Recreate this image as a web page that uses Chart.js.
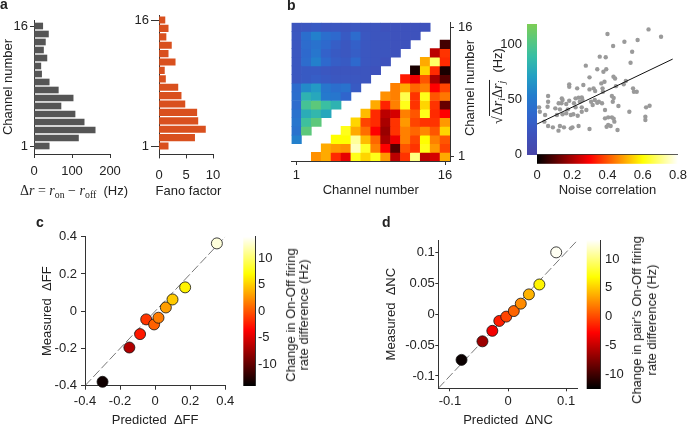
<!DOCTYPE html>
<html lang="en">
<head>
<meta charset="UTF-8">
<title>Rate differences, noise correlations and their changes</title>
<script src="https://cdn.jsdelivr.net/npm/chart.js"></script>
<style>
  body { margin: 0; background: #fff; }
  #fig { position: relative; width: 700px; height: 426px; overflow: hidden; background: #fff;
         font-family: 'Liberation Sans', Arial, sans-serif; color: #222; }
  #fig canvas { position: absolute; left: 0; top: 0; }
  .tag { position: absolute; font-weight: bold; font-size: 14px; line-height: 14px; }
  .lbl { position: absolute; white-space: nowrap; font-size: 13px; line-height: 14px; text-align: center; }
  .ctr { transform: translate(-50%, -50%); }
  .rot { transform: translate(-50%, -50%) rotate(-90deg); }
  .m { font-family: 'Liberation Serif', 'DejaVu Serif', serif; font-size: 14px; }
  sub { font-size: 70%; vertical-align: -0.3em; line-height: 0; }
</style>
</head>
<body>
<div id="fig">
  <canvas id="rateBars" width="700" height="426"></canvas>
  <canvas id="fanoBars" width="700" height="426"></canvas>
  <canvas id="pairMap" width="700" height="426"></canvas>
  <canvas id="pairScatter" width="700" height="426"></canvas>
  <canvas id="ffScatter" width="700" height="426"></canvas>
  <canvas id="ffBar" width="700" height="426"></canvas>
  <canvas id="ncScatter" width="700" height="426"></canvas>
  <canvas id="ncBar" width="700" height="426"></canvas>

  <div class="tag" style="left:0px;top:-3px">a</div>
  <div class="tag" style="left:287px;top:-2px">b</div>
  <div class="tag" style="left:36px;top:215px">c</div>
  <div class="tag" style="left:382px;top:215px">d</div>

  <div class="lbl ctr" style="left:74px;top:191px"><span class="m">Δ<i>r</i> = <i>r</i><sub>on</sub> − <i>r</i><sub>off</sub></span>&nbsp; (Hz)</div>
  <div class="lbl ctr" style="left:188.5px;top:191px">Fano factor</div>
  <div class="lbl rot" style="left:470px;top:88px">Channel number</div>
  <div class="lbl rot" style="left:498px;top:86px"><span class="m">√<span style="border-top:1px solid #222;padding:0 1px">Δ<i>r</i><sub><i>i</i></sub>Δ<i>r</i><sub><i>j</i></sub></span></span>&nbsp;&nbsp;(Hz)</div>
  <div class="lbl rot" style="left:296.5px;top:315px;line-height:13px">Change in On-Off firing<br>rate difference (Hz)</div>
  <div class="lbl rot" style="left:644px;top:320px;line-height:15px">Change in pair's On-Off firing<br>rate difference (Hz)</div>
</div>

<script>
    // panel a: per channel values (channel 1 .. 16)
    const channels = [1, 2, 3, 4, 5, 6, 7, 8, 9, 10, 11, 12, 13, 14, 15, 16];
    const rateDiff = [40, 117, 161, 132, 108, 71, 103, 64, 40, 20, 18, 34, 25, 30, 38, 23];
    const fano = [1.7, 6.6, 8.6, 7.2, 7.0, 4.8, 4.1, 3.5, 1.2, 1.0, 3.0, 1.7, 2.3, 1.3, 1.7, 1.1];
    const rateTicks = [0, 100, 200];
    const fanoTicks = [0, 5, 10];
    const channelTicks = [1, 16];

    // panel b: upper-left triangle, sqrt(dri*drj) in Hz, rows 3..16 (cols 1..row-2)
    const rateRows = [
        [55],
        [45, 105],
        [48, 92, 105],
        [45, 78, 85, 75],
        [40, 95, 105, 90, 82],
        [42, 82, 75, 50, 48, 35],
        [40, 60, 68, 48, 42, 45, 25],
        [22, 25, 28, 25, 22, 22, 22, 20],
        [22, 25, 25, 22, 20, 20, 20, 20, 18],
        [22, 40, 55, 38, 28, 25, 38, 22, 20, 18],
        [22, 38, 48, 32, 25, 22, 28, 22, 20, 20, 18],
        [22, 40, 45, 38, 28, 22, 30, 22, 20, 20, 18, 18],
        [22, 42, 55, 42, 38, 25, 40, 22, 20, 20, 18, 18, 18],
        [20, 22, 25, 22, 22, 20, 22, 20, 20, 18, 18, 18, 18, 18]
    ];
    // lower-right triangle, noise correlation, rows 1..14 (cols row+2..16)
    const ncRows = [
        [0.47, 0.50, 0.35, 0.27, 0.62, 0.55, 0.62, 0.48, 0.22, 0.36, 0.70, 0.22, 0.25, 0.50],
        [0.50, 0.48, 0.47, 0.75, 0.63, 0.45, 0.30, 0.10, 0.40, 0.36, 0.62, 0.48, 0.38],
        [0.60, 0.60, 0.72, 0.52, 0.42, 0.20, 0.28, 0.45, 0.38, 0.60, 0.45, 0.40],
        [0.62, 0.50, 0.43, 0.30, 0.18, 0.36, 0.45, 0.42, 0.46, 0.40, 0.55],
        [0.55, 0.38, 0.35, 0.20, 0.36, 0.48, 0.38, 0.36, 0.36, 0.48],
        [0.52, 0.35, 0.22, 0.25, 0.45, 0.40, 0.62, 0.35, 0.30],
        [0.50, 0.34, 0.45, 0.62, 0.36, 0.55, 0.36, 0.12],
        [0.47, 0.45, 0.66, 0.36, 0.62, 0.40, 0.44],
        [0.45, 0.50, 0.42, 0.45, 0.30, 0.38],
        [0.33, 0.28, 0.40, 0.20, 0.10],
        [0.03, 0.55, 0.35, 0.03],
        [0.50, 0.68, 0.35],
        [0.22, 0.36],
        [0.08]
    ];
    const rateMax = 118.5;
    const ncMax = 0.8;
    const rateAxisTicks = [0, 50, 100];
    const ncTicks = [0, 0.2, 0.4, 0.6, 0.8];

    // panel b scatter: noise correlation vs sqrt(dri*drj)
    const pairNC = [0.633, 0.704, 0.40, 0.571, 0.496, 0.432, 0.54, 0.356, 0.39, 0.531, 0.277, 0.342, 0.377, 0.393,
        0.298, 0.434, 0.443, 0.504, 0.365, 0.383, 0.183, 0.183, 0.228, 0.263, 0.298, 0.321, 0.372, 0.33, 0.492,
        0.448, 0.374, 0.545, 0.55, 0.566, 0.425, 0.435, 0.141, 0.145, 0.183, 0.219, 0.236, 0.254, 0.258, 0.243,
        0.328, 0.063, 0.063, 0.123, 0.139, 0.166, 0.21, 0.307, 0.342, 0.351, 0.369, 0.43, 0.012, 0.06, 0.104,
        0.13, 0.175, 0.219, 0.254, 0.28, 0.316, 0.386, 0.462, 0.619, 0.639, 0.016, 0.046, 0.113, 0.145, 0.166,
        0.192, 0.206, 0.231, 0.254, 0.386, 0.404, 0.425, 0.435, 0.439, 0.524, 0.615, 0.615, 0.042, 0.063, 0.09,
        0.13, 0.153, 0.192, 0.201, 0.236, 0.298, 0.395, 0.404, 0.418, 0.457, 0.122];
    const pairRate = [113.6, 106.9, 109.4, 103.9, 102.4, 98.5, 93.3, 88.8, 88.2, 83.3, 80.6, 77.3, 75.1, 77.3,
        70, 70.6, 69, 66.6, 64.5, 66, 63.6, 61.5, 60, 63, 59, 60, 60, 57.5, 63.6,
        62, 56.9, 60, 56.9, 56.9, 53, 51.2, 50.9, 49.4, 48.7, 50.9, 51.5, 51.8, 49.4, 47.8,
        49.4, 53, 47.8, 46.4, 46.4, 45.7, 46.4, 47.8, 46.9, 47.8, 46.4, 47.8, 42.7, 43.3, 41.8,
        40.9, 40.9, 42.7, 42.7, 40.3, 44.8, 40.3, 43.9, 42.7, 44.2, 38.7, 35.7, 35.7, 36.4, 37.3,
        35.7, 36.4, 35.1, 38.7, 32.7, 33.6, 33.6, 32.4, 29.7, 38.7, 34.2, 31.2, 29.7, 25.7, 24.5,
        25.7, 24.5, 23.6, 24.5, 25.7, 23, 25.1, 26.6, 25.7, 22.1, 21.5];
    const fitNC = [0, 0.77];
    const fitRate = [27.5, 86.6];

    // panel c
    const predFF = [-0.30, -0.147, -0.086, -0.051, -0.006, 0.019, 0.061, 0.099, 0.171, 0.352];
    const measFF = [-0.379, -0.195, -0.123, -0.044, -0.071, -0.035, 0.02, 0.063, 0.128, 0.364];
    const rateChangeFF = [-13.4, -6.7, -2.5, -1.3, 0.5, 1.6, 3, 4.8, 6.5, 13];
    const ffTicks = [-0.4, -0.2, 0, 0.2, 0.4];
    const ffRange = [-0.4, 0.4];
    const ffColor = [-14, 14];

    // panel d
    const predNC = [-0.08, -0.044, -0.027, -0.015, -0.003, 0.01, 0.022, 0.036, 0.054, 0.083];
    const measNC = [-0.074, -0.044, -0.027, -0.011, -0.004, 0.005, 0.017, 0.032, 0.048, 0.1];
    const rateChangeNC = [-12, -6.5, -3.2, -1.7, -0.2, 1, 2.5, 4, 6.5, 13];
    const dncTicks = [-0.1, 0, 0.1];
    const dncYTicks = [-0.1, -0.05, 0, 0.05, 0.1];
    const dncRange = [-0.12, 0.12];
    const ncColor = [-12.4, 13.3];
    const colorTicks = [-10, -5, 0, 5, 10];

    Chart.defaults.font.family = "'Liberation Sans', Arial, sans-serif";
    Chart.defaults.font.size = 13;
    Chart.defaults.color = '#222';

    const clamp = v => Math.max(0, Math.min(1, v));

    function hot(f) {
        f = clamp(f);
        const r = clamp(f / 0.375), g = clamp((f - 0.375) / 0.375), b = clamp((f - 0.75) / 0.25);
        return `rgb(${Math.round(255 * r)},${Math.round(255 * g)},${Math.round(255 * b)})`;
    }

    const blueStops = [
        [0, [72, 70, 168]], [0.15, [62, 82, 188]], [0.3, [48, 102, 205]], [0.45, [35, 125, 205]],
        [0.6, [35, 160, 195]], [0.75, [55, 190, 165]], [0.88, [90, 200, 125]], [1, [125, 205, 85]]
    ];
    function parula(f) {
        f = clamp(f);
        for (let i = 1; i < blueStops.length; i++) {
            const [f1, c1] = blueStops[i];
            const [f0, c0] = blueStops[i - 1];
            if (f <= f1) {
                const t = (f - f0) / (f1 - f0);
                const c = c0.map((v, k) => Math.round(v + t * (c1[k] - v)));
                return `rgb(${c[0]},${c[1]},${c[2]})`;
            }
        }
        return 'rgb(125,205,85)';
    }

    // chart area in page pixels -> layout padding (axis boxes get fixed sizes)
    function pad(l, t, r, b, yw, xh, yRight) {
        return yRight
            ? { left: l, top: t, right: 700 - r - yw, bottom: 426 - b - xh }
            : { left: l - yw, top: t, right: 700 - r, bottom: 426 - b - xh };
    }

    function axis({ min, max, ticks, tl = 4, gap = 3, size, title, border = true, position }) {
        const o = {
            type: 'linear', min, max, offset: false,
            afterBuildTicks: s => { s.ticks = ticks.map(v => ({ value: v })); },
            ticks: { padding: gap, autoSkip: false, maxRotation: 0, color: '#222', callback: v => String(v) },
            grid: { drawOnChartArea: false, drawTicks: tl > 0, tickLength: tl, color: '#333', offset: false },
            border: { display: border, color: '#333' },
            title: { display: !!title, text: title || '', padding: 0, color: '#222' },
            afterFit: s => { if (s.isHorizontal()) s.height = size; else s.width = size; }
        };
        if (position) o.position = position;
        return o;
    }

    function base(o) {
        return Object.assign({
            responsive: false,
            animation: false,
            events: [],
            plugins: { legend: { display: false }, tooltip: { enabled: false } }
        }, o);
    }

    // a: rate difference bars
    new Chart('rateBars', {
        type: 'bar',
        data: { datasets: [{ data: channels.map((c, i) => ({ x: rateDiff[i], y: c })), backgroundColor: '#555', barThickness: 6 }] },
        options: base({
            indexAxis: 'y',
            layout: { padding: pad(34, 20, 110, 154, 33.3, 40) },
            scales: {
                x: axis({ min: 0, max: 200, ticks: rateTicks, tl: 4, gap: 6, size: 40 }),
                y: axis({ min: 0, max: 16.75, ticks: channelTicks, tl: 4, gap: 2, size: 33.3, title: 'Channel number' })
            }
        })
    });

    // a: Fano factor bars
    new Chart('fanoBars', {
        type: 'bar',
        data: { datasets: [{ data: channels.map((c, i) => ({ x: fano[i], y: c })), backgroundColor: '#d9501e', barThickness: 6.5 }] },
        options: base({
            indexAxis: 'y',
            layout: { padding: pad(159, 15, 213, 154.4, 30, 44.4) },
            scales: {
                x: axis({ min: 0, max: 10, ticks: fanoTicks, tl: 4, gap: 9, size: 44.4 }),
                y: axis({ min: 0, max: 16.6, ticks: channelTicks, tl: 8, gap: 2, size: 30 })
            }
        })
    });

    // b: pair matrix
    const rateCells = [], ncCells = [];
    rateRows.forEach((vals, k) => {
        const row = k + 3;
        vals.forEach((v, c) => rateCells.push({ x: c + 1, y: [row - 0.5, row + 0.5], v }));
    });
    ncRows.forEach((vals, k) => {
        const row = k + 1;
        vals.forEach((v, c) => ncCells.push({ x: row + 2 + c, y: [row - 0.5, row + 0.5], v }));
    });
    const cellStyle = { grouped: false, categoryPercentage: 1, barPercentage: 1, borderWidth: 0 };
    new Chart('pairMap', {
        type: 'bar',
        data: {
            datasets: [
                Object.assign({ data: rateCells, backgroundColor: c => c.raw ? parula(c.raw.v / rateMax) : 'transparent' }, cellStyle),
                Object.assign({ data: ncCells, backgroundColor: c => c.raw ? hot(c.raw.v / ncMax) : 'transparent' }, cellStyle)
            ]
        },
        options: base({
            layout: { padding: pad(291.5, 22.7, 450, 161, 25, 37.5, true) },
            scales: {
                x: axis({ min: 0.5, max: 16.5, ticks: channelTicks, tl: 4, gap: 3, size: 37.5, title: 'Channel number' }),
                y: axis({ min: 0.5, max: 16.5, ticks: channelTicks, tl: 4, gap: 4, size: 25, position: 'right' })
            }
        })
    });

    // b: scatter with the two colour bars along its axes
    const pairBars = {
        id: 'pairBars',
        afterDraw(chart) {
            const { ctx, chartArea: a, scales: { x, y } } = chart;
            const top = y.getPixelForValue(rateMax);
            for (let p = Math.floor(top); p < a.bottom; p++) {
                ctx.fillStyle = parula(y.getValueForPixel(p + 0.5) / rateMax);
                ctx.fillRect(a.left - 10, p, 10, 1);
            }
            for (let p = Math.floor(a.left); p < a.right; p++) {
                ctx.fillStyle = hot(x.getValueForPixel(p + 0.5) / ncMax);
                ctx.fillRect(p, a.bottom + 0.5, 1, 9);
            }
        }
    };
    new Chart('pairScatter', {
        type: 'scatter',
        data: {
            datasets: [
                { data: fitNC.map((v, i) => ({ x: v, y: fitRate[i] })), showLine: true, borderColor: '#111', borderWidth: 1, pointRadius: 0 },
                { data: pairNC.map((v, i) => ({ x: v, y: pairRate[i] })), backgroundColor: '#9a9a9a', borderWidth: 0, pointRadius: 2.2 }
            ]
        },
        options: base({
            layout: { padding: pad(537, 24, 688, 154.3, 40, 44.2) },
            scales: {
                x: axis({ min: 0, max: ncMax, ticks: ncTicks, tl: 0, gap: 13, size: 44.2, title: 'Noise correlation' }),
                y: axis({ min: 0, max: rateMax, ticks: rateAxisTicks, tl: 0, gap: 15, size: 40, border: false })
            }
        }),
        plugins: [pairBars]
    });

    // colour bar drawn through the bar chart's own y scale
    const hotStrip = {
        id: 'hotStrip',
        beforeDraw(chart) {
            const { ctx, chartArea: a, scales: { y } } = chart;
            for (let p = Math.floor(a.top); p < a.bottom; p++) {
                ctx.fillStyle = hot((y.getValueForPixel(p + 0.5) - y.min) / (y.max - y.min));
                ctx.fillRect(a.left, p, a.right - a.left, 1);
            }
        }
    };

    function changeScatter(id, xs, ys, vals, crange, range, area, xTicks, yTicks, opt) {
        new Chart(id, {
            type: 'scatter',
            data: {
                datasets: [
                    {
                        data: xs.map((v, i) => ({ x: v, y: ys[i], v: vals[i] })),
                        backgroundColor: c => c.raw ? hot((c.raw.v - crange[0]) / (crange[1] - crange[0])) : '#fff',
                        borderColor: '#111', borderWidth: 0.8, pointRadius: 5.5, clip: false
                    },
                    {
                        data: range.map(v => ({ x: v, y: v })), showLine: true, borderColor: '#555',
                        borderWidth: 0.8, borderDash: [9, 3], pointRadius: 0
                    }
                ]
            },
            options: base({
                layout: { padding: pad(area[0], area[1], area[2], area[3], opt.yw, opt.xh) },
                scales: {
                    x: axis({ min: range[0], max: range[1], ticks: xTicks, tl: opt.tl, gap: opt.xgap, size: opt.xh, title: opt.xTitle }),
                    y: axis({ min: range[0], max: range[1], ticks: yTicks, tl: opt.tl, gap: opt.ygap, size: opt.yw, title: opt.yTitle })
                }
            })
        });
    }

    function colourBar(id, crange, area, gap) {
        new Chart(id, {
            type: 'scatter',
            data: { datasets: [] },
            options: base({
                layout: { padding: pad(area[0], area[1], area[2], area[3], 25, 0, true) },
                scales: {
                    x: { display: false, min: 0, max: 1 },
                    y: axis({ min: crange[0], max: crange[1], ticks: colorTicks, tl: 0, gap, size: 25, position: 'right' })
                }
            }),
            plugins: [hotStrip]
        });
    }

    // c
    changeScatter('ffScatter', predFF, measFF, rateChangeFF, ffColor, ffRange, [85, 236.7, 225.3, 385.7], ffTicks, ffTicks,
        { yw: 45.8, xh: 42.1, tl: 4, xgap: 4.2, ygap: 4, xTitle: 'Predicted  ΔFF', yTitle: 'Measured  ΔFF' });
    colourBar('ffBar', ffColor, [243.3, 236.7, 255, 385.7], 3);

    // d
    changeScatter('ncScatter', predNC, measNC, rateChangeNC, ncColor, dncRange, [438.3, 240, 577.7, 388.3], dncTicks, dncYTicks,
        { yw: 54.4, xh: 39.5, tl: 3, xgap: 2.6, ygap: 0.5, xTitle: 'Predicted  ΔNC', yTitle: 'Measured  ΔNC' });
    colourBar('ncBar', ncColor, [586.7, 240, 600, 388.3], 5);
</script>
</body>
</html>
